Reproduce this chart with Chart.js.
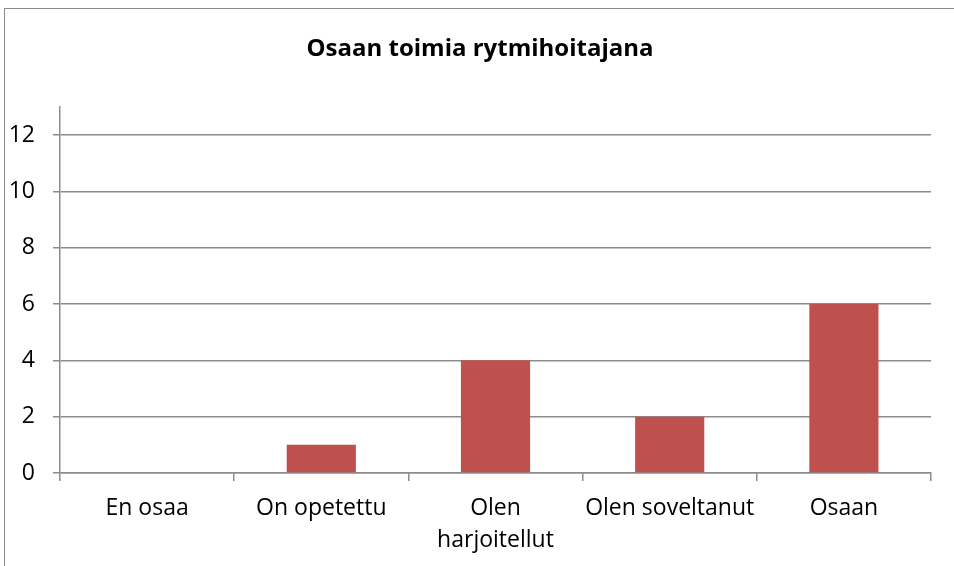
<!DOCTYPE html>
<html>
<head>
<meta charset="utf-8">
<script src="https://cdn.jsdelivr.net/npm/chart.js@4"></script>
<style>
  html, body { margin: 0; padding: 0; background: #fff; overflow: hidden; }
  #frame {
    position: absolute; left: 4px; top: 8px; width: 1000px; height: 600px;
    border-top: 1.5px solid #8c8c8c; border-left: 1.5px solid #8c8c8c;
  }
  #wrap { position: absolute; left: 0; top: 0; width: 954px; height: 566px; overflow: hidden; }
</style>
</head>
<body>
<div id="frame"></div>
<div id="wrap"><canvas id="chart" width="960" height="566"></canvas></div>
<script>
const chartTitle = 'Osaan toimia rytmihoitajana';
const categories = ['En osaa', 'On opetettu', ['Olen', 'harjoitellut'], 'Olen soveltanut', 'Osaan'];
const counts = [0, 1, 4, 2, 6];
const yTicks = [0, 2, 4, 6, 8, 10, 12];

const FONT = '"Open Sans", Lato, sans-serif';

new Chart(document.getElementById('chart'), {
    type: 'bar',
    data: {
        labels: categories,
        datasets: [{
            data: counts,
            backgroundColor: '#c0504d',
            borderWidth: 0,
            categoryPercentage: 1,
            barPercentage: 0.397
        }]
    },
    options: {
        responsive: false,
        animation: false,
        layout: { padding: 0 },
        plugins: {
            legend: { display: false },
            tooltip: { enabled: false },
            title: {
                display: true,
                text: chartTitle,
                color: '#000',
                font: { family: FONT, size: 24, weight: 'bold', lineHeight: 1.2 },
                padding: { top: 35, bottom: 43 }
            }
        },
        scales: {
            x: {
                offset: true,
                grid: {
                    offset: true,
                    drawOnChartArea: false,
                    drawTicks: true,
                    tickLength: 8,
                    color: '#8c8c8c',
                    lineWidth: 1.5
                },
                border: { display: true, color: '#8c8c8c', width: 1.5 },
                ticks: {
                    color: '#000',
                    padding: 11,
                    maxRotation: 0,
                    autoSkip: false,
                    font: { family: FONT, size: 23, lineHeight: '32px' }
                },
                afterFit: (axis) => { axis.height = 93; }
            },
            y: {
                min: 0,
                max: 13,
                afterBuildTicks: (axis) => { axis.ticks = yTicks.map(v => ({ value: v })); },
                grid: {
                    color: '#8c8c8c',
                    lineWidth: 1.5,
                    tickLength: 7
                },
                border: { display: true, color: '#8c8c8c', width: 1.5 },
                ticks: {
                    color: '#000',
                    padding: 18,
                    font: { family: FONT, size: 23 }
                },
                afterFit: (axis) => { axis.width = 60; }
            },
            // empty right-hand axis: only reserves space so the title centre sits where the reference has it
            spacer: {
                type: 'linear',
                position: 'right',
                grid: { display: false },
                border: { display: false },
                ticks: { display: false },
                afterFit: (axis) => { axis.width = 29; }
            }
        }
    }
});
</script>
</body>
</html>
